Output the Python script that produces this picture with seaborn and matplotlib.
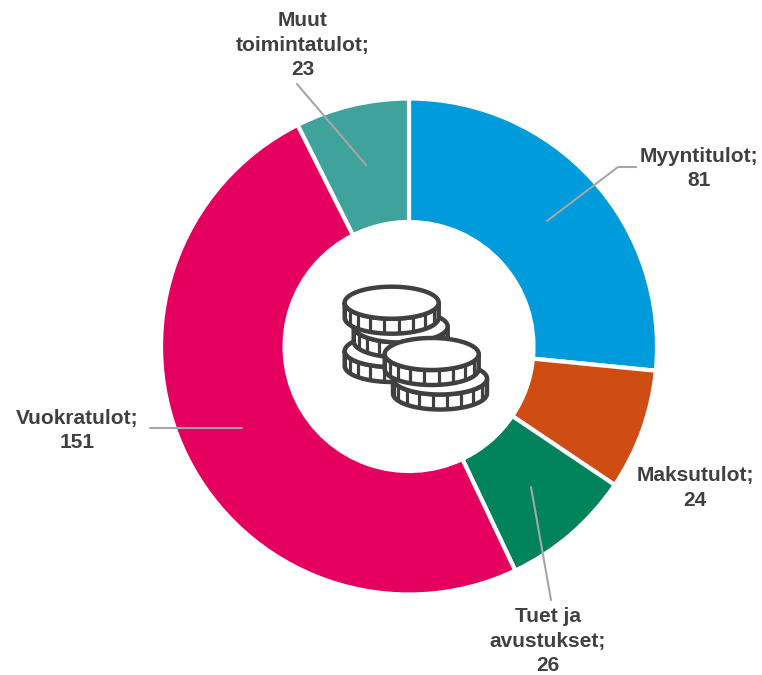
import numpy as np
import matplotlib
matplotlib.use("Agg")
import matplotlib.pyplot as plt
import seaborn as sns

# Data
categories = ["Myyntitulot", "Maksutulot", "Tuet ja\navustukset", "Vuokratulot", "Muut\ntoimintatulot"]
values = [81, 24, 26, 151.4, 22.6]
colors = ["#009BDB", "#CF4C12", "#00825B", "#E50060", "#3FA29B"]

H = 675

sns.set_theme(style="white")
plt.rcParams['font.family'] = ['Liberation Sans', 'DejaVu Sans']

fig = plt.figure(figsize=(7.62, 6.75), dpi=100)
ax = fig.add_axes([0, 0, 1, 1])

# -------------------------
# Donut
# -------------------------
ax.pie(
    values,
    colors=sns.color_palette(colors),
    startangle=90,
    counterclock=False,
    center=(409, H - 346.5),
    radius=248,
    frame=True,
    wedgeprops=dict(width=123.5, edgecolor="white", linewidth=3),
)
ax.set_xlim(0, 762)
ax.set_ylim(0, H)
ax.set_aspect("equal")
ax.axis("off")

# -------------------------
# Labels and leader lines
# -------------------------
label_pos = [(699, 168.5), (695, 488), (548, 641), (77.5, 430.5), (303, 45)]
for name, val, (x, y) in zip(categories, values, label_pos):
    ax.text(x, H - y, f"{name};\n{val:.0f}", ha="center", va="center",
            fontsize=15, fontweight="bold", color="#404040", linespacing=1.38)

leaders = [
    [(636, 167), (618, 167), (547, 221)],
    [(551, 600), (531, 487)],
    [(150, 428), (242, 428)],
    [(297, 84), (366, 165)],
]
for pts in leaders:
    ax.plot([p[0] for p in pts], [H - p[1] for p in pts], color="#A6A6A6", lw=1.5, zorder=5)


# -------------------------
# Coin icon
# -------------------------
def coin(cx, cy, rx=47, ry=16, depth=15, col="#404040"):
    t = np.linspace(0, 2 * np.pi, 120)
    low = np.linspace(0, np.pi, 60)
    # side band first, then the top face over it
    bx = np.r_[cx + rx * np.cos(low), cx + rx * np.cos(low[::-1])]
    by = np.r_[cy + ry * np.sin(low) + depth, cy + ry * np.sin(low[::-1])]
    ax.fill(bx, H - by, facecolor="white", edgecolor=col, lw=3.2, zorder=6, joinstyle="round")
    for a in np.linspace(0.15, np.pi - 0.15, 10):
        x = cx + rx * np.cos(a)
        y0 = cy + ry * np.sin(a)
        ax.plot([x, x], [H - y0, H - (y0 + depth)], color=col, lw=2.3, zorder=6,
                solid_capstyle="butt")
    ax.fill(cx + rx * np.cos(t), H - (cy + ry * np.sin(t)), facecolor="white",
            edgecolor=col, lw=3.2, zorder=6)


coin(391.7, 351)
coin(400.7, 326.5)
coin(391.7, 302.7)
coin(440, 378.5)
coin(431.7, 354)

fig.savefig("out.png", dpi=100)
plt.close()
